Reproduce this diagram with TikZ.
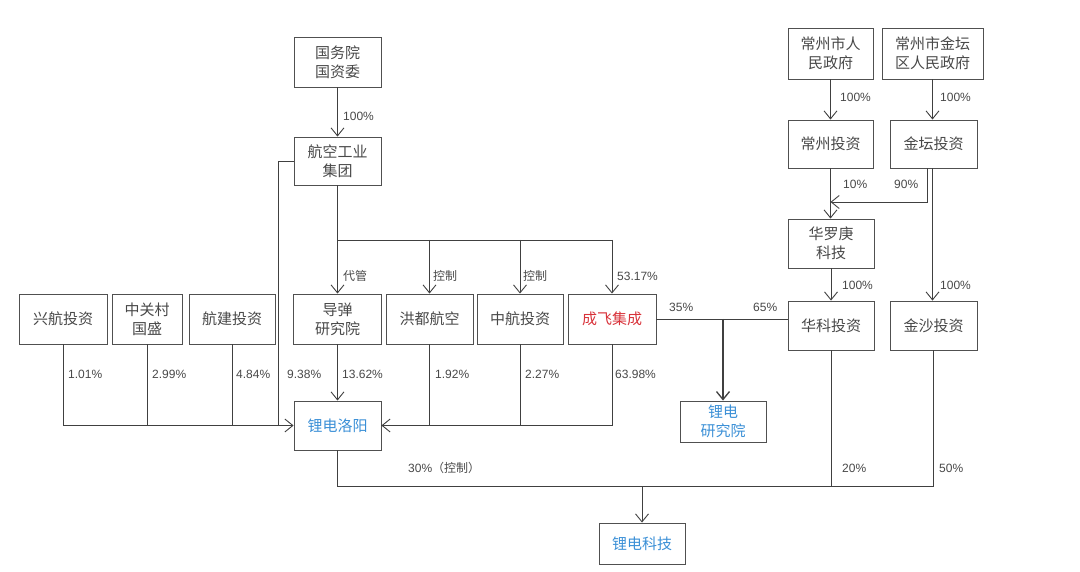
\documentclass[tikz,border=0pt]{standalone}
\usepackage{fontspec}
\setmainfont{Liberation Sans}
\newfontfamily\cjk{Noto Sans CJK SC}
\usetikzlibrary{arrows.meta}
\definecolor{ln}{HTML}{404040}
\definecolor{bx}{HTML}{505050}
\definecolor{tx}{HTML}{484848}
\definecolor{blu}{HTML}{3A8FD6}
\definecolor{rd}{HTML}{D8323A}
\begin{document}
\begin{tikzpicture}[x=1pt,y=-1pt,
  box/.style={draw=bx,line width=0.9pt,inner sep=0pt,align=center,text=tx,
    font=\cjk\fontsize{15}{19}\selectfont,minimum width=87pt,minimum height=49pt},
  lnk/.style={draw=ln,line width=0.9pt},
  arr/.style={lnk,-{Straight Barb[length=8pt,width=13pt,line width=0.9pt]}},
  lab/.style={anchor=west,inner sep=0pt,text=tx,font=\fontsize{12}{14}\selectfont},
  clab/.style={lab,font=\cjk\fontsize{12}{14}\selectfont}]
\useasboundingbox (0,0) rectangle (1080,572);
% boxes
\node[box,minimum height=50pt] (gwy) at (337.5,62) {国务院\\国资委};
\node[box,minimum height=48pt] (hk) at (337.5,161) {航空工业\\集团};
\node[box,minimum width=88pt,minimum height=50pt] (xh) at (63,319) {兴航投资};
\node[box,minimum width=70pt,minimum height=50pt] (zgc) at (147,319) {中关村\\国盛};
\node[box,minimum width=86pt,minimum height=50pt] (hj) at (232,319) {航建投资};
\node[box,minimum width=88pt,minimum height=50pt] (dd) at (337.5,319) {导弹\\研究院};
\node[box,minimum height=50pt] (hd) at (429.5,319) {洪都航空};
\node[box,minimum width=86pt,minimum height=50pt] (zh) at (520,319) {中航投资};
\node[box,minimum width=88pt,minimum height=50pt,text=rd] (cf) at (612,319) {成飞集成};
\node[box,text=blu] (ldly) at (337.5,425.5) {锂电洛阳};
\node[box,minimum width=86pt,minimum height=41pt,text=blu] (ldyjy) at (723,421.5) {锂电\\研究院};
\node[box,minimum width=86pt,minimum height=41pt,text=blu] (ldkj) at (642,543.5) {锂电科技};
\node[box,minimum width=85pt,minimum height=51pt] (czrm) at (830.5,53.5) {常州市人\\民政府};
\node[box,minimum width=101pt,minimum height=51pt] (jtq) at (932.5,53.5) {常州市金坛\\区人民政府};
\node[box,minimum width=85pt,minimum height=48pt] (czt) at (830.5,144) {常州投资};
\node[box,minimum height=48pt] (jtt) at (933.5,144) {金坛投资};
\node[box,minimum width=86pt] (hlg) at (831,243.5) {华罗庚\\科技};
\node[box,minimum width=86pt] (hkt) at (831,325.5) {华科投资};
\node[box] (js) at (933.5,325.5) {金沙投资};
% connectors
\coordinate (br) at (337.5,240);
\coordinate (lb) at (278,425.5);
\coordinate (bus) at (642,486);
\coordinate (m) at (830.5,202);
\draw[arr] (gwy) -- (hk);
\draw[lnk] (hk.south) -- (br) -- (br -| cf.north);
\draw[arr] (br) -- (dd.north);
\draw[arr] (br -| hd.north) -- (hd.north);
\draw[arr] (br -| zh.north) -- (zh.north);
\draw[arr] (br -| cf.north) -- (cf.north);
\draw[lnk] (hk.west) -| (lb);
\draw[lnk] (xh.south) |- (lb);
\draw[lnk] (zgc.south) |- (lb);
\draw[lnk] (hj.south) |- (lb);
\draw[arr] (xh.south |- lb) -- (ldly.west);
\draw[arr] (dd.south) -- (ldly.north);
\draw[lnk] (cf.south) |- (ldly.east);
\draw[lnk] (zh.south) -- (zh.south |- ldly.east);
\draw[arr] (hd.south) |- (ldly.east);
\draw[lnk] (cf.east) -- (cf.east -| hkt.west);
\draw[lnk,line width=1.5pt,-{Straight Barb[length=8pt,width=13pt,line width=1.3pt]}] (cf.east -| ldyjy.north) -- (ldyjy.north);
\draw[lnk] (ldly.south) |- (bus);
\draw[lnk] (hkt.south) |- (bus);
\draw[lnk] (js.south) |- (bus);
\draw[arr] (bus) -- (ldkj.north);
\draw[arr] (czrm) -- (czt);
\draw[arr] (jtq.south) -- (jtq.south |- jtt.north);
\draw[arr] (czt.south) -- (czt.south |- hlg.north);
\draw[arr] ([xshift=-6.5pt]jtt.south) |- (m);
\draw[arr] (hlg) -- (hkt);
\draw[arr] ([xshift=-1pt]jtt.south) -- ([xshift=-1pt]jtt.south |- js.north);
% labels
\node[lab] (l1) at (343,116) {100\%};
\node[clab] (l2) at (343,276) {代管};
\node[clab] (l3) at (433,276) {控制};
\node[clab] (l4) at (523,276) {控制};
\node[lab] (l5) at (617,276) {53.17\%};
\node[lab] (l6) at (68,374) {1.01\%};
\node[lab] (l7) at (152,374) {2.99\%};
\node[lab] (l8) at (236,374) {4.84\%};
\node[lab] (l9) at (287,374) {9.38\%};
\node[lab] (l10) at (342,374) {13.62\%};
\node[lab] (l11) at (435,374) {1.92\%};
\node[lab] (l12) at (525,374) {2.27\%};
\node[lab] (l13) at (615,374) {63.98\%};
\node[lab] (l14) at (669,307) {35\%};
\node[lab] (l15) at (753,307) {65\%};
\node[lab] (l16) at (408,468) {30\%{\cjk（控制）}};
\node[lab] (l17) at (842,468) {20\%};
\node[lab] (l18) at (939,468) {50\%};
\node[lab] (l19) at (840,97) {100\%};
\node[lab] (l20) at (940,97) {100\%};
\node[lab] (l21) at (843,184) {10\%};
\node[lab] (l22) at (894,184) {90\%};
\node[lab] (l23) at (842,285) {100\%};
\node[lab] (l24) at (940,285) {100\%};
\end{tikzpicture}
\end{document}
